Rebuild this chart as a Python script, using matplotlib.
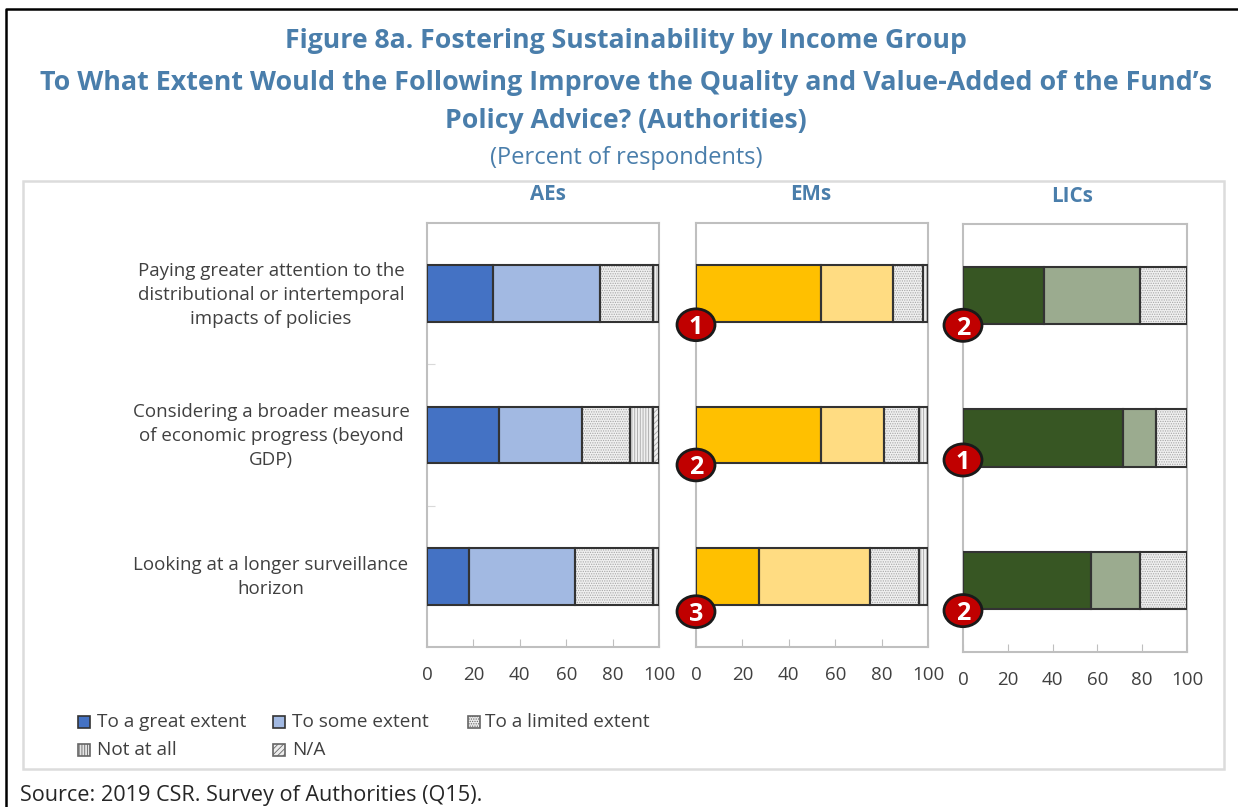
import numpy as np
import matplotlib
matplotlib.use('Agg')
import matplotlib.pyplot as plt
from matplotlib.lines import Line2D
from matplotlib.patches import Ellipse, Rectangle

plt.rcParams['font.family'] = ['Open Sans', 'DejaVu Sans']
plt.rcParams['hatch.linewidth'] = 0.6

W, H = 1238, 807

questions = ['Paying greater attention to the\ndistributional or intertemporal\nimpacts of policies',
             'Considering a broader measure\nof economic progress (beyond\nGDP)',
             'Looking at a longer surveillance\nhorizon']
legend_labels = ['To a great extent', 'To some extent', 'To a limited extent', 'Not at all', 'N/A']
ticks = [0, 20, 40, 60, 80, 100]

aes_great = [28.5, 31, 18]
aes_some = [46, 36, 46]
aes_limited = [23, 20.5, 33.5]
aes_not = [2.5, 10, 2.5]
aes_na = [0, 2.5, 0]

ems_great = [54, 54, 27]
ems_some = [31, 27, 48]
ems_limited = [13, 15, 21]
ems_not = [2, 4, 4]
ems_na = [0, 0, 0]

lics_great = [36, 71.5, 57]
lics_some = [43, 14.5, 22]
lics_limited = [21, 14, 21]
lics_not = [0, 0, 0]
lics_na = [0, 0, 0]

em_rank = [1, 2, 3]
lic_rank = [2, 1, 2]

blue = '#4A7EAB'
grey = '#BFBFBF'
txt = '#404040'


def px_axes(fig, x0, y0, x1, y1):
    return fig.add_axes([x0 / W, 1 - y1 / H, (x1 - x0) / W, (y1 - y0) / H])


def panel(ax, series, colors, title, title_x, title_ypx, rank=None, badge_dy=None):
    y = np.arange(3)
    left = np.zeros(3)
    styles = [(colors[0], None), (colors[1], None), ('#F0F0F0', '.......'), ('#EFEFEF', '||||||'), ('#F0F0F0', '//////')]
    for vals, (fc, hatch) in zip(series, styles):
        vals = np.array(vals, dtype=float)
        keep = vals > 0
        # hatch is drawn in grey, then the dark outline goes on top
        ax.barh(y[keep], vals[keep], left=left[keep], height=0.4, color=fc, hatch=hatch,
                edgecolor='#A6A6A6', linewidth=0, zorder=3)
        ax.barh(y[keep], vals[keep], left=left[keep], height=0.4, fill=False,
                edgecolor='#333333', linewidth=1.5, zorder=4)
        left += vals
    ax.set_xlim(0, 100)
    ax.set_ylim(2.5, -0.5)
    ax.set_xticks(ticks)
    ax.set_yticks([0.5, 1.5])
    ax.set_yticklabels([])
    ax.tick_params(axis='x', direction='in', length=6, color=grey, labelcolor=txt, labelsize=13.5, pad=14)
    ax.tick_params(axis='y', direction='in', length=6, color='#D9D9D9')
    for s in ax.spines.values():
        s.set_color(grey)
        s.set_linewidth(1.5)
    fig.text(title_x / W, 1 - title_ypx / H, title, ha='center', va='center',
             color=blue, fontsize=14.8, fontweight='bold')
    if rank is not None:
        ax.tick_params(axis='y', length=0)
        w = 38 / ax.get_window_extent().width * 100
        for i, r in enumerate(rank):
            ax.add_patch(Ellipse((0, i + badge_dy[i]), w, 0.225, facecolor='#C00000', edgecolor='#1A1A1A',
                                 linewidth=2, clip_on=False, zorder=6))
            ax.text(0, i + badge_dy[i], str(r), ha='center', va='center_baseline', color='white',
                    fontsize=18, fontweight='bold', zorder=7)


fig = plt.figure(figsize=(W / 100, H / 100), dpi=100)

# outer frame, only top and left show in the picture
fig.add_artist(Line2D([6 / W, 6 / W, 1], [0, 1 - 9 / H, 1 - 9 / H], transform=fig.transFigure,
                      color='black', linewidth=1.8))
fig.add_artist(Rectangle((23 / W, 1 - 769 / H), 1201 / W, 588 / H, transform=fig.transFigure,
                         fill=False, edgecolor='#DCDCDC', linewidth=1.8))

fig.text(626 / W, 1 - 41 / H, 'Figure 8a. Fostering Sustainability by Income Group', ha='center', va='center',
         color=blue, fontsize=19.2, fontweight='bold')
fig.text(626 / W, 1 - 83 / H, 'To What Extent Would the Following Improve the Quality and Value-Added of the Fund\u2019s',
         ha='center', va='center', color=blue, fontsize=19.4, fontweight='bold')
fig.text(626 / W, 1 - 121 / H, 'Policy Advice? (Authorities)', ha='center', va='center',
         color=blue, fontsize=19.2, fontweight='bold')
fig.text(626 / W, 1 - 158 / H, '(Percent of respondents)', ha='center', va='center', color=blue, fontsize=17)

ax1 = px_axes(fig, 427, 223, 659, 647)
ax2 = px_axes(fig, 696, 223, 928, 647)
ax3 = px_axes(fig, 963, 224, 1187, 652)

panel(ax1, [aes_great, aes_some, aes_limited, aes_not, aes_na], ['#4472C4', '#A2B9E2'], 'AEs', 548, 194)
panel(ax2, [ems_great, ems_some, ems_limited, ems_not, ems_na], ['#FFC000', '#FFDC82'], 'EMs', 811, 194,
      em_rank, [0.22, 0.212, 0.25])
panel(ax3, [lics_great, lics_some, lics_limited, lics_not, lics_na], ['#375623', '#9BAB8F'], 'LICs', 1072, 196,
      lic_rank, [0.21, 0.154, 0.21])

for i, q in enumerate(questions):
    ax1.annotate(q, xy=(0, i), xycoords=('axes fraction', 'data'), xytext=(-156, -1), textcoords='offset pixels',
                 ha='center', va='center', color=txt, fontsize=13.5, linespacing=1.44, multialignment='center')

legend_faces = ['#4472C4', '#A2B9E2', '#EDEDED', '#E4E4E4', '#EDEDED']
legend_hatches = [None, None, '.......', '||||||', '//////']
legend_edges = ['#333333', '#333333', '#666666', '#666666', '#666666']
xs = [78, 273, 468, 78, 273]
ys = [722, 722, 722, 750, 750]
for fc, hatch, ec, lab, xp, yp in zip(legend_faces, legend_hatches, legend_edges, legend_labels, xs, ys):
    fig.add_artist(Rectangle((xp / W, 1 - (yp + 6) / H), 12 / W, 12 / H, transform=fig.transFigure,
                             facecolor=fc, edgecolor=ec, hatch=hatch, linewidth=1.2))
    fig.text((xp + (17 if xp == 468 else 19)) / W, 1 - yp / H, lab, ha='left', va='center', color=txt, fontsize=13.7)

fig.text(20 / W, 1 - 796 / H, 'Source: 2019 CSR. Survey of Authorities (Q15).', ha='left', va='center',
         color='#262626', fontsize=15.6)

fig.savefig('out.png', dpi=100)
